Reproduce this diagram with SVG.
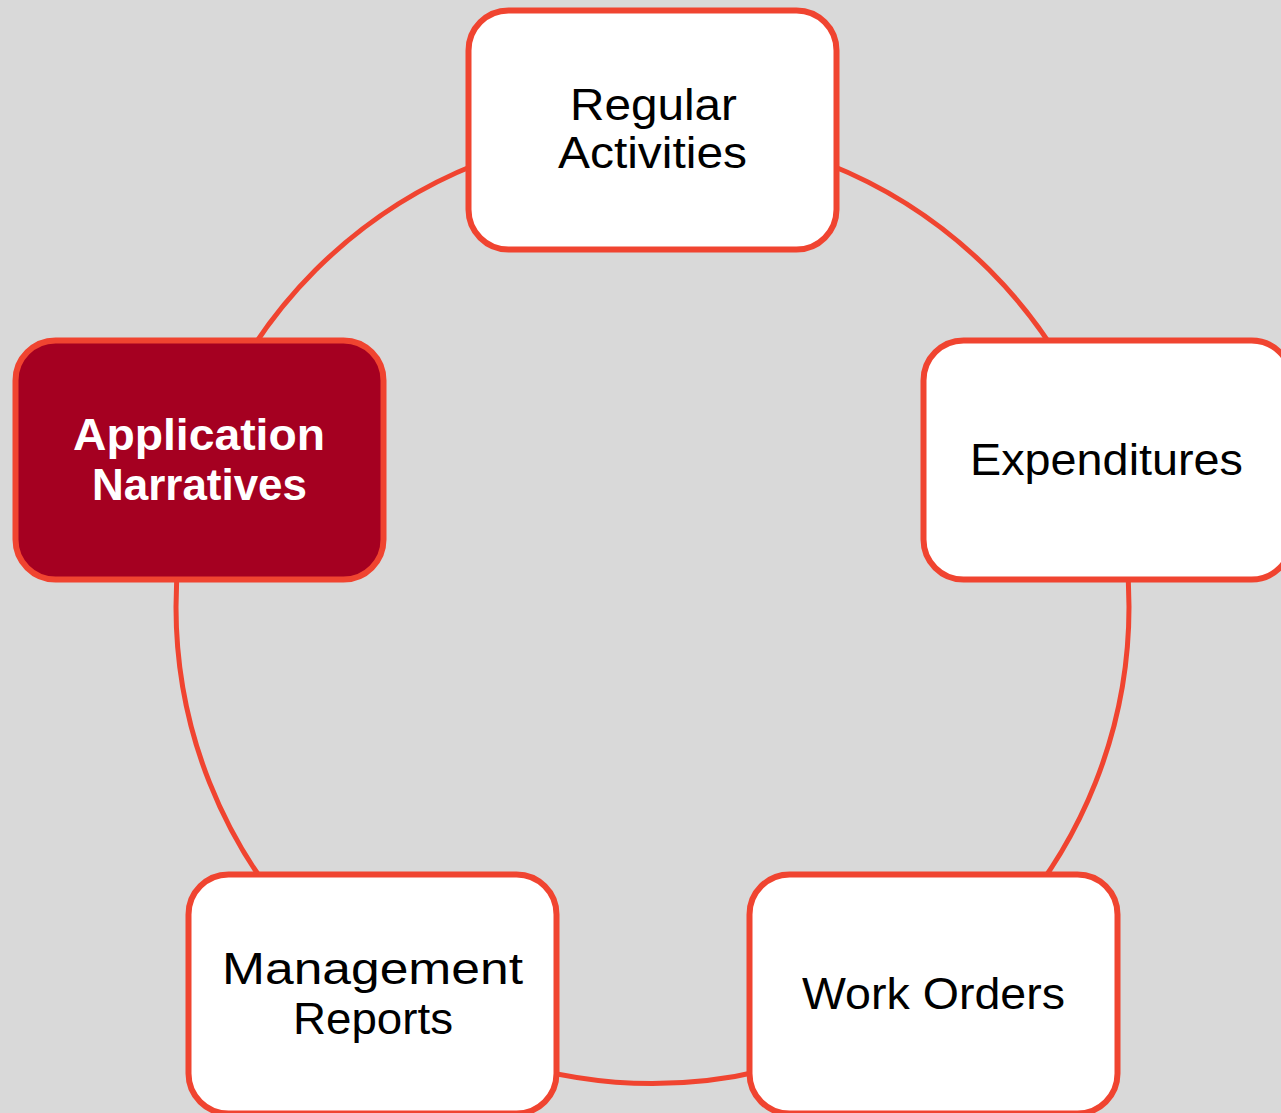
<svg xmlns="http://www.w3.org/2000/svg" width="1281" height="1113" viewBox="0 0 1281 1113">
<style>
.bg{fill:#d9d9d9}
.ring{fill:none;stroke:#f04430;stroke-width:5}
.box{fill:#ffffff;stroke:#f04430;stroke-width:6}
.box.hl{fill:#a50021}
.t{font-family:"Liberation Sans","DejaVu Sans",sans-serif;font-size:44px;fill:#000000;text-anchor:middle}
.t.b{font-weight:bold;fill:#ffffff}
</style>
<rect class="bg" x="0" y="0" width="1281" height="1113"/>
<g id="connectors">
<circle class="ring" cx="652.5" cy="607" r="476.5"/>
</g>
<g id="node-regular-activities">
<rect class="box" x="468.5" y="10.5" width="368" height="239" rx="40" ry="40"/>
<text class="t" x="653.5" y="120" textLength="167" lengthAdjust="spacingAndGlyphs">Regular</text>
<text class="t" x="652.5" y="168" textLength="189" lengthAdjust="spacingAndGlyphs">Activities</text>
</g>
<g id="node-expenditures">
<rect class="box" x="923.5" y="340.5" width="368" height="239" rx="40" ry="40"/>
<text class="t" x="1106.5" y="475" textLength="273" lengthAdjust="spacingAndGlyphs">Expenditures</text>
</g>
<g id="node-work-orders">
<rect class="box" x="749.5" y="874.5" width="368" height="239" rx="40" ry="40"/>
<text class="t" x="933.5" y="1009" textLength="263" lengthAdjust="spacingAndGlyphs">Work Orders</text>
</g>
<g id="node-management-reports">
<rect class="box" x="188.5" y="874.5" width="368" height="239" rx="40" ry="40"/>
<text class="t" x="372.5" y="984" textLength="301" lengthAdjust="spacingAndGlyphs">Management</text>
<text class="t" x="373" y="1034" textLength="160" lengthAdjust="spacingAndGlyphs">Reports</text>
</g>
<g id="node-application-narratives">
<rect class="box hl" x="15.5" y="340.5" width="368" height="239" rx="40" ry="40"/>
<text class="t b" x="199" y="450" textLength="252" lengthAdjust="spacingAndGlyphs">Application</text>
<text class="t b" x="199.5" y="500" textLength="215" lengthAdjust="spacingAndGlyphs">Narratives</text>
</g>
</svg>
